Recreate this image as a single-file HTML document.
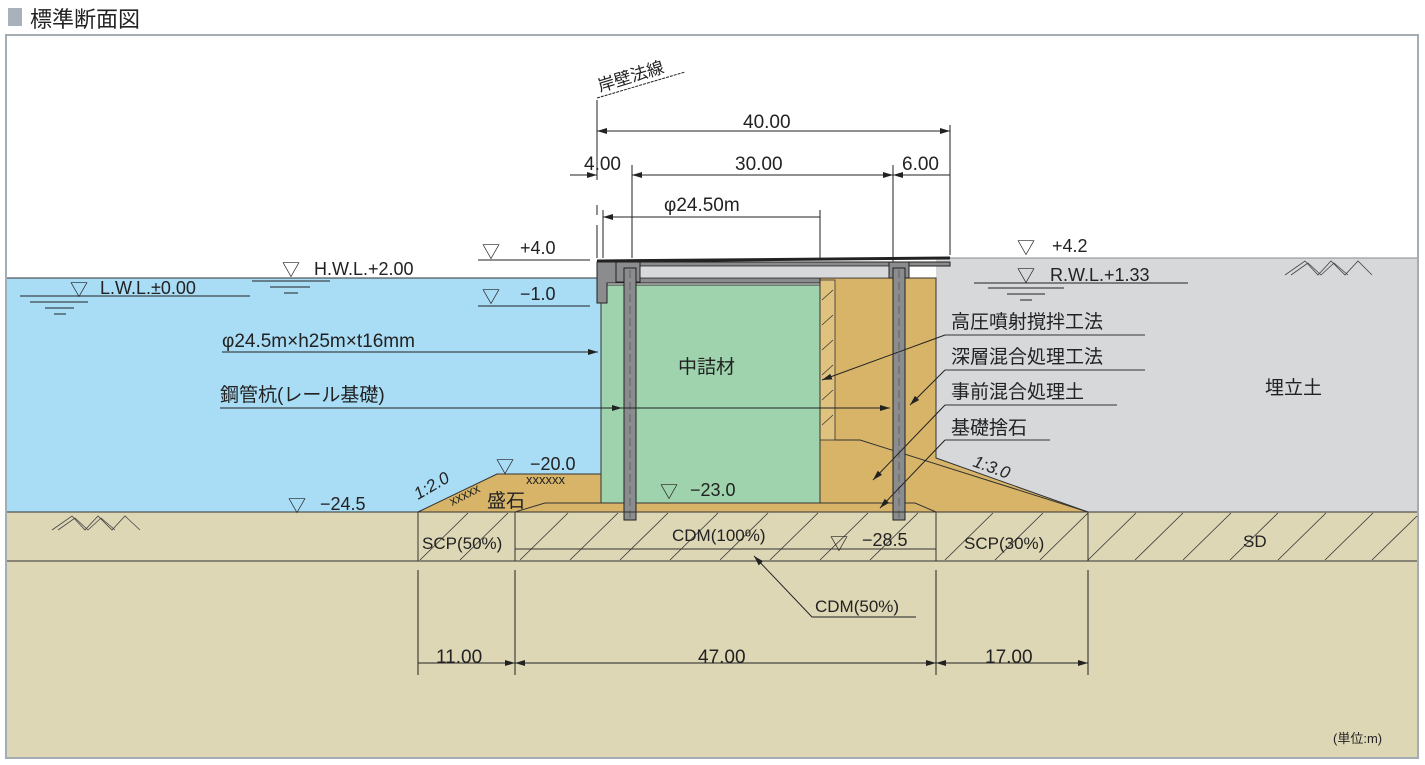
<!DOCTYPE html>
<html><head><meta charset="utf-8"><style>
html,body{margin:0;padding:0;background:#fff;}
svg{display:block;}
text{font-family:"Liberation Sans Narrow","Liberation Sans","Noto Sans CJK JP",sans-serif;fill:#222;}
.j{font-family:"Liberation Sans","Noto Sans CJK JP",sans-serif;}
</style></head><body>
<svg width="1425" height="765" viewBox="0 0 1425 765" xmlns="http://www.w3.org/2000/svg">
<defs>
<marker id="a" viewBox="0 0 10 6" refX="10" refY="3" markerWidth="10" markerHeight="6" orient="auto-start-reverse" markerUnits="userSpaceOnUse"><path d="M0,0L10,3L0,6z" fill="#222"/></marker>
</defs>
<rect x="8" y="8" width="14" height="18" fill="#a9b2bb"/>
<text x="30" y="27" class="j" font-size="22" fill="#333">標準断面図</text>
<rect x="6" y="35" width="1412" height="723" fill="#fff" stroke="#a5adb4" stroke-width="2"/>
<rect x="7" y="278" width="594" height="234" fill="#a9dcf5"/>
<line x1="7" y1="278" x2="601" y2="278" stroke="#333" stroke-width="1"/>
<rect x="936" y="258" width="481" height="254" fill="#d7d8da"/>
<line x1="936" y1="258" x2="1417" y2="258" stroke="#888" stroke-width="1"/>
<rect x="7" y="512" width="1410" height="245" fill="#ddd7b6"/>
<polygon points="418,512 497,474 601,474 601,503 820,503 820,278 936,278 936,458 1088,512" fill="#d7b468" stroke="#333" stroke-width="1"/>
<rect x="820" y="280" width="15" height="160" fill="#dfc27d" stroke="#333" stroke-width="0.8"/>
<g stroke="#333" stroke-width="0.7">
<line x1="822" y1="300" x2="833" y2="290"/><line x1="822" y1="325" x2="833" y2="315"/><line x1="822" y1="350" x2="833" y2="340"/><line x1="822" y1="375" x2="833" y2="365"/><line x1="822" y1="400" x2="833" y2="390"/><line x1="822" y1="425" x2="833" y2="415"/>
</g>
<polyline points="835,440 860,440 1088,512" fill="none" stroke="#333" stroke-width="1"/>
<polyline points="515,512 545,503 915,503 936,512" fill="none" stroke="#333" stroke-width="1"/>
<rect x="601" y="285" width="219" height="218" fill="#9fd3ad" stroke="#333" stroke-width="1"/>
<polygon points="597,262 950,262 950,266 640,266 640,278 820,278 820,283 607,283 607,303 597,303" fill="#8a8c8e" stroke="#222" stroke-width="1"/>
<rect x="640" y="266" width="250" height="12" fill="#d8d9db" stroke="#333" stroke-width="0.8"/>
<line x1="597" y1="261" x2="950" y2="258" stroke="#222" stroke-width="3"/>
<rect x="889" y="262" width="20" height="16" fill="#8a8c8e" stroke="#222"/>
<rect x="616" y="262" width="24" height="20" fill="#8a8c8e" stroke="#222"/>
<rect x="624" y="268" width="12" height="252" fill="#8a8c8e" stroke="#222"/>
<line x1="630" y1="270" x2="630" y2="518" stroke="#555" stroke-dasharray="8,4" stroke-width="0.7"/>
<rect x="893" y="268" width="12" height="252" fill="#8a8c8e" stroke="#222"/>
<line x1="899" y1="270" x2="899" y2="518" stroke="#555" stroke-dasharray="8,4" stroke-width="0.7"/>
<g stroke="#333" stroke-width="1" fill="none">
<line x1="7" y1="512" x2="1417" y2="512"/>
<line x1="7" y1="561" x2="1417" y2="561"/>
<line x1="418" y1="512" x2="418" y2="561"/>
<line x1="515" y1="512" x2="515" y2="561"/>
<line x1="936" y1="512" x2="936" y2="561"/>
<line x1="1088" y1="512" x2="1088" y2="561"/>
<line x1="515" y1="549" x2="936" y2="549"/>
</g>
<g stroke="#333" stroke-width="0.8">
<line x1="420" y1="560" x2="468" y2="513"/><line x1="460" y1="560" x2="508" y2="513"/>
<line x1="520" y1="560" x2="568" y2="513"/><line x1="570" y1="560" x2="618" y2="513"/><line x1="620" y1="560" x2="668" y2="513"/><line x1="670" y1="560" x2="718" y2="513"/><line x1="720" y1="560" x2="768" y2="513"/><line x1="770" y1="560" x2="818" y2="513"/><line x1="820" y1="560" x2="868" y2="513"/><line x1="870" y1="560" x2="918" y2="513"/>
<line x1="945" y1="560" x2="993" y2="513"/><line x1="995" y1="560" x2="1043" y2="513"/><line x1="1040" y1="560" x2="1088" y2="513"/>
<line x1="1088" y1="560" x2="1136" y2="513"/><line x1="1135" y1="560" x2="1183" y2="513"/><line x1="1183" y1="560" x2="1231" y2="513"/><line x1="1230" y1="560" x2="1278" y2="513"/><line x1="1278" y1="560" x2="1326" y2="513"/><line x1="1325" y1="560" x2="1373" y2="513"/><line x1="1372" y1="560" x2="1417" y2="516"/>
</g>
<g stroke="#444" stroke-width="0.8" fill="none">
<polyline points="52,530 72,516 85,530 98,516 112,530 125,516 140,530"/>
<polyline points="58,530 75,518 88,530 101,518 115,530"/>
<polyline points="1285,275 1305,261 1318,275 1331,261 1345,275 1358,261 1372,275"/>
<polyline points="1291,275 1308,263 1321,275 1334,263 1348,275"/>
</g>
<text x="526" y="484" font-size="13" fill="#333">xxxxxx</text>
<text x="452" y="506" font-size="13" fill="#333" transform="rotate(-27 452 506)">xxxxx</text>
<g stroke="#222" stroke-width="1" fill="none">
<line x1="597" y1="100" x2="597" y2="180"/>
<line x1="597" y1="205" x2="597" y2="215"/>
<line x1="597" y1="225" x2="597" y2="258"/>
<line x1="950" y1="125" x2="950" y2="255"/>
<line x1="632" y1="165" x2="632" y2="258"/>
<line x1="893" y1="165" x2="893" y2="262"/>
<line x1="603" y1="210" x2="603" y2="258"/>
<line x1="820" y1="210" x2="820" y2="258"/>
<line x1="597" y1="131" x2="950" y2="131" marker-start="url(#a)" marker-end="url(#a)"/>
<line x1="570" y1="175" x2="597" y2="175" marker-end="url(#a)"/>
<line x1="632" y1="175" x2="893" y2="175" marker-start="url(#a)" marker-end="url(#a)"/>
<line x1="950" y1="175" x2="893" y2="175" marker-end="url(#a)"/>
<line x1="603" y1="217" x2="820" y2="217" marker-start="url(#a)"/>
<line x1="418" y1="570" x2="418" y2="675"/>
<line x1="515" y1="570" x2="515" y2="675"/>
<line x1="936" y1="570" x2="936" y2="675"/>
<line x1="1088" y1="570" x2="1088" y2="675"/>
<line x1="418" y1="663" x2="515" y2="663" marker-end="url(#a)"/>
<line x1="515" y1="663" x2="936" y2="663" marker-start="url(#a)" marker-end="url(#a)"/>
<line x1="936" y1="663" x2="1088" y2="663" marker-start="url(#a)" marker-end="url(#a)"/>
<line x1="597" y1="98" x2="685" y2="72" stroke-dasharray="3,1"/>
</g>
<text x="600" y="92" class="j" font-size="17" transform="rotate(-17 600 92)">岸壁法線</text>
<text x="743" y="128" font-size="19">40.00</text>
<text x="584" y="170" font-size="19">4.00</text>
<text x="735" y="170" font-size="19">30.00</text>
<text x="902" y="170" font-size="19">6.00</text>
<text x="664" y="211" font-size="19">φ24.50m</text>
<text x="436" y="663" font-size="19">11.00</text>
<text x="698" y="663" font-size="19">47.00</text>
<text x="985" y="663" font-size="19">17.00</text>
<g font-size="18">
<text x="482" y="258">▽</text><text x="520" y="254">+4.0</text>
<text x="482" y="303">▽</text><text x="520" y="300">−1.0</text>
<text x="282" y="276">▽</text><text x="314" y="275">H.W.L.+2.00</text>
<text x="70" y="296">▽</text><text x="100" y="294">L.W.L.±0.00</text>
<text x="1017" y="254">▽</text><text x="1052" y="252">+4.2</text>
<text x="1017" y="282">▽</text><text x="1050" y="281">R.W.L.+1.33</text>
<text x="496" y="473">▽</text><text x="530" y="470">−20.0</text>
<text x="288" y="512">▽</text><text x="320" y="510">−24.5</text>
<text x="660" y="498">▽</text><text x="690" y="496">−23.0</text>
<text x="830" y="550">▽</text><text x="862" y="546">−28.5</text>
</g>
<g stroke="#222" stroke-width="1">
<line x1="478" y1="260" x2="590" y2="260"/><line x1="478" y1="306" x2="590" y2="306"/>
<line x1="252" y1="281" x2="330" y2="281"/><line x1="270" y1="287" x2="310" y2="287"/><line x1="284" y1="293" x2="298" y2="293"/>
<line x1="20" y1="296" x2="250" y2="296"/><line x1="30" y1="302" x2="88" y2="302"/><line x1="45" y1="308" x2="74" y2="308"/><line x1="54" y1="314" x2="66" y2="314"/>
<line x1="974" y1="283" x2="1188" y2="283"/><line x1="988" y1="288" x2="1064" y2="288"/><line x1="1007" y1="294" x2="1045" y2="294"/><line x1="1020" y1="300" x2="1032" y2="300"/>
</g>
<text x="222" y="347" font-size="19">φ24.5m×h25m×t16mm</text>
<line x1="222" y1="352" x2="598" y2="352" stroke="#222" marker-end="url(#a)"/>
<text x="220" y="401" class="j" font-size="19">鋼管杭(レール基礎)</text>
<line x1="220" y1="408" x2="622" y2="408" stroke="#222" marker-end="url(#a)"/>
<line x1="622" y1="408" x2="890" y2="408" stroke="#222" marker-end="url(#a)"/>
<text x="678" y="373" class="j" font-size="19">中詰材</text>
<text x="487" y="507" class="j" font-size="19">盛石</text>
<text x="418" y="500" font-size="17" font-style="italic" transform="rotate(-30 418 500)">1:2.0</text>
<text x="972" y="466" font-size="17" font-style="italic" transform="rotate(20 972 466)">1:3.0</text>
<text x="422" y="549" font-size="17">SCP(50%)</text>
<text x="672" y="541" font-size="17">CDM(100%)</text>
<text x="964" y="549" font-size="17">SCP(30%)</text>
<text x="1243" y="547" font-size="17">SD</text>
<text x="1265" y="394" class="j" font-size="19">埋立土</text>
<text x="1333" y="743" class="j" font-size="13">(単位:m)</text>
<text x="815" y="612" font-size="17">CDM(50%)</text>
<g stroke="#222" stroke-width="1" fill="none">
<polyline points="916,617 812,617 754,556" marker-end="url(#a)"/>
</g>
<g class="j" font-size="19">
<text x="951" y="328" class="j">高圧噴射撹拌工法</text>
<text x="951" y="363" class="j">深層混合処理工法</text>
<text x="951" y="398" class="j">事前混合処理土</text>
<text x="951" y="434" class="j">基礎捨石</text>
</g>
<g stroke="#555" stroke-width="1.2" fill="none">
<line x1="945" y1="335" x2="1145" y2="335"/>
<line x1="945" y1="370" x2="1145" y2="370"/>
<line x1="945" y1="405" x2="1117" y2="405"/>
<line x1="945" y1="440" x2="1050" y2="440"/>
</g>
<g stroke="#222" stroke-width="1" fill="none">
<line x1="945" y1="335" x2="822" y2="380" marker-end="url(#a)"/>
<line x1="945" y1="370" x2="910" y2="405" marker-end="url(#a)"/>
<line x1="945" y1="405" x2="873" y2="480" marker-end="url(#a)"/>
<line x1="945" y1="440" x2="880" y2="508" marker-end="url(#a)"/>
</g>
</svg>
</body></html>
